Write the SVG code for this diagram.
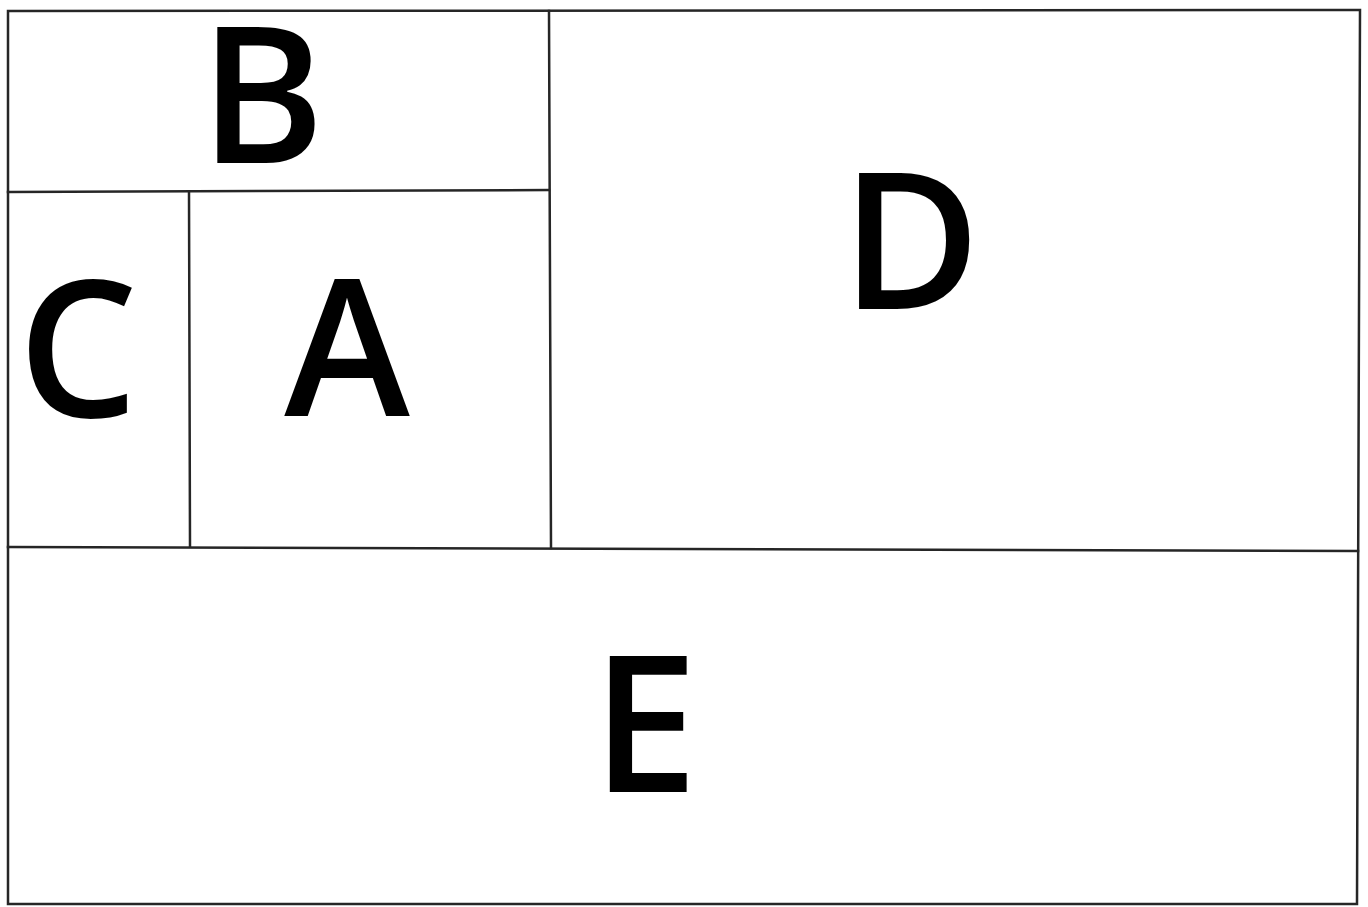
<svg xmlns="http://www.w3.org/2000/svg" width="1368" height="907" viewBox="0 0 1368 907">
<style>
.ln{stroke:#262626;stroke-width:2.5;fill:none;stroke-linecap:square}
.lb{font-family:"Open Sans","Noto Sans",sans-serif;font-size:190px;font-weight:600;fill:#000;text-anchor:middle}
</style>
<rect width="1368" height="907" fill="#fff"/>
<g id="frame">
<path class="ln" d="M8,11 L1360,10 L1357,904 L8,904 Z"/>
<line class="ln" x1="8" y1="547" x2="1358" y2="551"/>
<line class="ln" x1="8" y1="192" x2="549" y2="190"/>
<line class="ln" x1="549" y1="11" x2="551" y2="548"/>
<line class="ln" x1="189" y1="192" x2="190" y2="546"/>
</g>
<g id="B"><text class="lb" x="262" y="163">B</text></g>
<g id="C"><text class="lb" x="78" y="417">C</text></g>
<g id="A"><text class="lb" x="347" y="416">A</text></g>
<g id="D"><text class="lb" x="911" y="309">D</text></g>
<g id="E"><text class="lb" x="645" y="792">E</text></g>
</svg>
